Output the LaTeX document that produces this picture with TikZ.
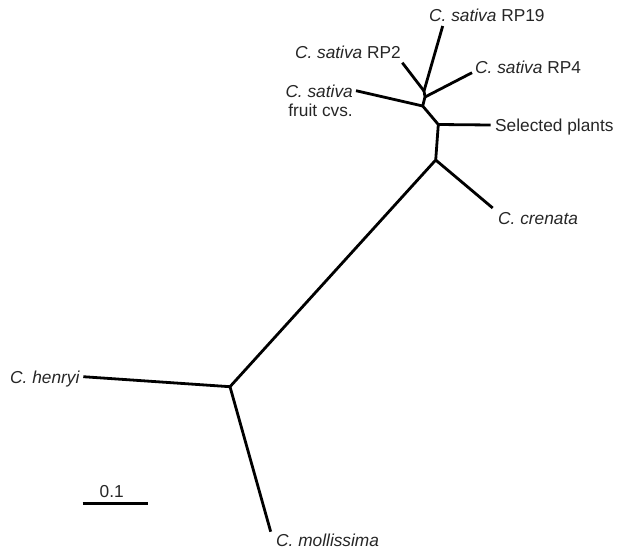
\documentclass[tikz,border=0pt]{standalone}
\usepackage{fontspec}
\setmainfont{Liberation Sans}
\begin{document}
\begin{tikzpicture}[x=1pt,y=-1pt,
  branch/.style={line width=2.8pt,line cap=butt,line join=round},
  taxon/.style={inner sep=0pt,text=black!85,font=\fontsize{17.3}{20}\selectfont}]
\useasboundingbox (0,0) rectangle (618,554);
% internal nodes of the tree
\coordinate (j1) at (424,91);
\coordinate (j2) at (425,97);
\coordinate (j3) at (422.7,106);
\coordinate (j4) at (438.3,124.5);
\coordinate (j5) at (435.7,160);
\coordinate (j6) at (230,386.7);
% leaf ends
\coordinate (t19) at (442.7,26);
\coordinate (t2) at (402.3,62.7);
\coordinate (t4) at (472,72.7);
\coordinate (tf) at (356,90.7);
\coordinate (ts) at (490.7,125);
\coordinate (tc) at (492.7,208);
\coordinate (th) at (83.3,376.7);
\coordinate (tm) at (270.7,531.7);
% scale bar ends
\coordinate (s0) at (82.7,503.3);
\coordinate (s1) at (147.7,503.3);
% leaf labels
\node[taxon,anchor=base west] (lrp19) at (429,21.7) {\textit{C. sativa} RP19};
\node[taxon,anchor=base east] (lrp2) at (401,58.3) {\textit{C. sativa} RP2};
\node[taxon,anchor=base west] (lrp4) at (475,73.3) {\textit{C. sativa} RP4};
\node[taxon,anchor=base east] (lfruit) at (353,97.3) {\textit{C. sativa}};
\node[taxon,anchor=base east] (lfruit2) at (353,116.7) {fruit cvs.};
\node[taxon,anchor=base west] (lsel) at (495,131.7) {Selected plants};
\node[taxon,anchor=base west] (lcren) at (498,224) {\textit{C. crenata}};
\node[taxon,anchor=base east] (lhen) at (80,383.3) {\textit{C. henryi}};
\node[taxon,anchor=base west] (lmol) at (276,546.7) {\textit{C. mollissima}};
\node[taxon,anchor=base] (lscale) at (111.7,497.3) {0.1};
% branches
\draw[branch] (t19) -- (j1) -- (j2) -- (j3) -- (j4) -- (j5) -- (j6) -- (tm);
\draw[branch] (t2) -- (j1);
\draw[branch] (t4) -- (j2);
\draw[branch] (tf) -- (j3);
\draw[branch] (j4) -- (ts);
\draw[branch] (j5) -- (tc);
\draw[branch] (th) -- (j6);
% scale bar
\draw[branch] (s0) -- (s1);
\end{tikzpicture}
\end{document}
